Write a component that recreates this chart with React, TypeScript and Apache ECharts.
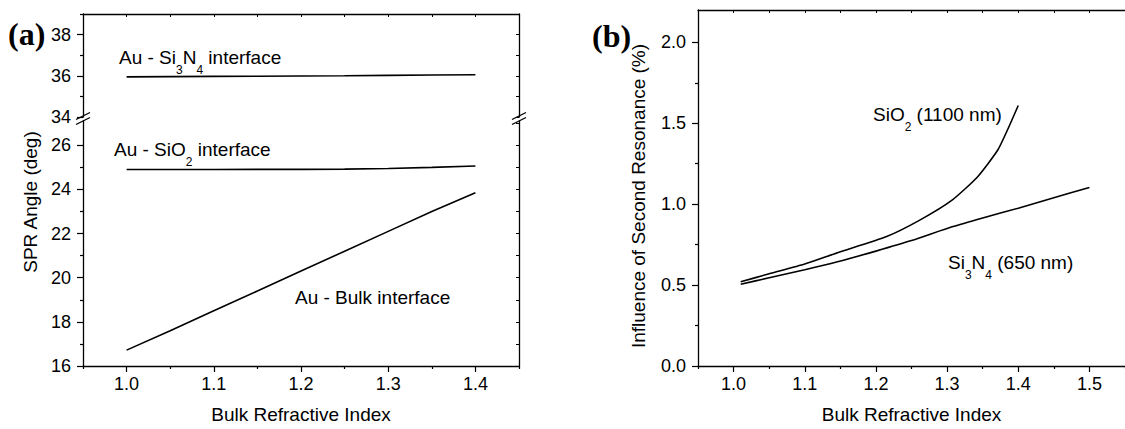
import React, { useEffect, useRef } from "react";
import * as echarts from "echarts";

const FONT = "'Liberation Sans', Arial, sans-serif";
const SERIF = "'Liberation Serif', 'Times New Roman', serif";

// ---------- Panel (a) data ----------
const indexA = [1.0, 1.05, 1.1, 1.15, 1.2, 1.25, 1.3, 1.35, 1.4];
const angleSi3N4 = [35.95, 35.96, 35.97, 35.98, 35.99, 36.0, 36.02, 36.04, 36.05];
const angleSiO2 = [24.9, 24.9, 24.9, 24.91, 24.91, 24.92, 24.95, 25.0, 25.06];
const angleBulk = [16.72, 17.6, 18.5, 19.4, 20.3, 21.2, 22.1, 23.0, 23.85];

const xTicksA = [1.0, 1.1, 1.2, 1.3, 1.4];
const xMinorA = [0.95, 1.05, 1.15, 1.25, 1.35, 1.45];
const xAllA = [0.95, 1.0, 1.05, 1.1, 1.15, 1.2, 1.25, 1.3, 1.35, 1.4, 1.45];
const yTicksUpper = [34, 36, 38];
const yMinorUpper = [35, 37, 39];
const yAllUpper = [34, 35, 36, 37, 38, 39];
const yTicksLower = [16, 18, 20, 22, 24, 26];
const yMinorLower = [17, 19, 21, 23, 25];
const yAllLower = [16, 17, 18, 19, 20, 21, 22, 23, 24, 25, 26, 27];

// ---------- Panel (b) data ----------
const indexSiO2 = [1.01, 1.05, 1.1, 1.146, 1.215, 1.261, 1.307, 1.343, 1.371, 1.385, 1.4];
const influenceSiO2 = [0.52, 0.57, 0.63, 0.7, 0.8, 0.9, 1.025, 1.17, 1.333, 1.46, 1.61];
const indexSi3N4 = [1.01, 1.05, 1.1, 1.146, 1.2, 1.25, 1.307, 1.35, 1.4, 1.45, 1.5];
const influenceSi3N4 = [0.505, 0.545, 0.595, 0.644, 0.71, 0.775, 0.86, 0.915, 0.975, 1.04, 1.103];

const xTicksB = [1.0, 1.1, 1.2, 1.3, 1.4, 1.5];
const xMinorB = [0.95, 1.05, 1.15, 1.25, 1.35, 1.45, 1.55];
const yTicksB = [0, 0.5, 1.0, 1.5, 2.0];
const yMinorB = [0.25, 0.75, 1.25, 1.75];

const BLACK = "#000";
const LW = 1.3;

const axisLineOn = { show: true, onZero: false, lineStyle: { color: BLACK, width: LW } };
const axisLineOff = { show: false, onZero: false };
const noLabel = { show: false };
const noSplit = { show: false };
const labelStyle = { color: BLACK, fontSize: 18, fontFamily: FONT };

function pairs(xs: number[], ys: number[]) {
  return xs.map((x, i) => [x, ys[i]]);
}

function richLabel(parts: string) {
  return {
    text: parts,
    rich: {
      a: { fontSize: 19, fontFamily: FONT, lineHeight: 21, verticalAlign: "top", fill: BLACK },
      s: { fontSize: 12, fontFamily: FONT, lineHeight: 12, padding: [16, 0, 0, 0], verticalAlign: "top", fill: BLACK },
    },
    align: "left",
    verticalAlign: "top",
  };
}

function breakMarks(x: number) {
  return [
    { type: "line", shape: { x1: x - 7, y1: 119.5, x2: x + 7, y2: 112.5 }, style: { stroke: BLACK, lineWidth: LW } },
    { type: "line", shape: { x1: x - 7, y1: 124.5, x2: x + 7, y2: 117.5 }, style: { stroke: BLACK, lineWidth: LW } },
  ];
}

export default function App() {
  const ref = useRef<HTMLDivElement>(null);

  useEffect(() => {
    if (!ref.current) return;
    const chart = echarts.init(ref.current, null, { renderer: "svg" });

    const option: any = {
      animation: false,
      backgroundColor: "#fff",
      grid: [
        { left: 83, width: 436, top: 14, height: 103 },
        { left: 83, width: 436, top: 121, height: 248 },
        { left: 698, width: 436, top: 10, height: 356 },
      ],
      xAxis: [
        {
          gridIndex: 0, type: "value", position: "top", min: 0.95, max: 1.45,
          axisLine: axisLineOn,
          axisTick: { show: true, inside: true, length: 3, customValues: xAllA, lineStyle: { color: BLACK, width: 1 } },
          axisLabel: noLabel, splitLine: noSplit,
        },
        {
          gridIndex: 1, type: "value", position: "bottom", min: 0.95, max: 1.45,
          axisLine: axisLineOn,
          axisTick: { show: true, length: 6, customValues: xTicksA, lineStyle: { color: BLACK, width: 1.2 } },
          axisLabel: { ...labelStyle, customValues: xTicksA, margin: 9, formatter: (v: number) => v.toFixed(1) },
          splitLine: noSplit,
          name: "Bulk Refractive Index", nameLocation: "middle", nameGap: 39,
          nameTextStyle: { color: BLACK, fontSize: 19, fontFamily: FONT },
        },
        {
          gridIndex: 1, type: "value", position: "bottom", min: 0.95, max: 1.45,
          axisLine: axisLineOff,
          axisTick: { show: true, length: 3, customValues: xMinorA, lineStyle: { color: BLACK, width: 1.2 } },
          axisLabel: noLabel, splitLine: noSplit,
        },
        {
          gridIndex: 2, type: "value", position: "top", min: 0.95, max: 1.55,
          axisLine: axisLineOn,
          axisTick: { show: true, inside: true, length: 3, customValues: [...xTicksB, ...xMinorB], lineStyle: { color: BLACK, width: 1 } },
          axisLabel: noLabel, splitLine: noSplit,
        },
        {
          gridIndex: 2, type: "value", position: "bottom", min: 0.95, max: 1.55,
          axisLine: axisLineOn,
          axisTick: { show: true, length: 6, customValues: xTicksB, lineStyle: { color: BLACK, width: 1.2 } },
          axisLabel: { ...labelStyle, customValues: xTicksB, margin: 9, formatter: (v: number) => v.toFixed(1) },
          splitLine: noSplit,
          name: "Bulk Refractive Index", nameLocation: "middle", nameGap: 39,
          nameTextStyle: { color: BLACK, fontSize: 19, fontFamily: FONT },
        },
        {
          gridIndex: 2, type: "value", position: "bottom", min: 0.95, max: 1.55,
          axisLine: axisLineOff,
          axisTick: { show: true, length: 3, customValues: xMinorB, lineStyle: { color: BLACK, width: 1.2 } },
          axisLabel: noLabel, splitLine: noSplit,
        },
      ],
      yAxis: [
        {
          gridIndex: 0, type: "value", position: "left", min: 34, max: 39,
          axisLine: axisLineOn,
          axisTick: { show: true, length: 6, customValues: yTicksUpper, lineStyle: { color: BLACK, width: 1.2 } },
          axisLabel: { ...labelStyle, customValues: yTicksUpper, margin: 12 },
          splitLine: noSplit,
        },
        {
          gridIndex: 0, type: "value", position: "left", min: 34, max: 39,
          axisLine: axisLineOff,
          axisTick: { show: true, length: 3, customValues: yMinorUpper, lineStyle: { color: BLACK, width: 1.2 } },
          axisLabel: noLabel, splitLine: noSplit,
        },
        {
          gridIndex: 0, type: "value", position: "right", min: 34, max: 39,
          axisLine: axisLineOn,
          axisTick: { show: true, inside: true, length: 3, customValues: yAllUpper, lineStyle: { color: BLACK, width: 1 } },
          axisLabel: noLabel, splitLine: noSplit,
        },
        {
          gridIndex: 1, type: "value", position: "left", min: 16, max: 27.1,
          axisLine: axisLineOn,
          axisTick: { show: true, length: 6, customValues: yTicksLower, lineStyle: { color: BLACK, width: 1.2 } },
          axisLabel: { ...labelStyle, customValues: yTicksLower, margin: 12 },
          splitLine: noSplit,
        },
        {
          gridIndex: 1, type: "value", position: "left", min: 16, max: 27.1,
          axisLine: axisLineOff,
          axisTick: { show: true, length: 3, customValues: yMinorLower, lineStyle: { color: BLACK, width: 1.2 } },
          axisLabel: noLabel, splitLine: noSplit,
        },
        {
          gridIndex: 1, type: "value", position: "right", min: 16, max: 27.1,
          axisLine: axisLineOn,
          axisTick: { show: true, inside: true, length: 3, customValues: yAllLower, lineStyle: { color: BLACK, width: 1 } },
          axisLabel: noLabel, splitLine: noSplit,
        },
        {
          gridIndex: 2, type: "value", position: "left", min: 0, max: 2.2,
          axisLine: axisLineOn,
          axisTick: { show: true, length: 6, customValues: yTicksB, lineStyle: { color: BLACK, width: 1.2 } },
          axisLabel: { ...labelStyle, customValues: yTicksB, margin: 12, formatter: (v: number) => v.toFixed(1) },
          splitLine: noSplit,
        },
        {
          gridIndex: 2, type: "value", position: "left", min: 0, max: 2.2,
          axisLine: axisLineOff,
          axisTick: { show: true, length: 3, customValues: yMinorB, lineStyle: { color: BLACK, width: 1.2 } },
          axisLabel: noLabel, splitLine: noSplit,
        },
      ],
      series: [
        {
          name: "Au - Si3N4 interface", type: "line", xAxisIndex: 0, yAxisIndex: 0,
          data: pairs(indexA, angleSi3N4), showSymbol: false, symbol: "none",
          lineStyle: { color: BLACK, width: 1.6 },
        },
        {
          name: "Au - SiO2 interface", type: "line", xAxisIndex: 1, yAxisIndex: 3,
          data: pairs(indexA, angleSiO2), showSymbol: false, symbol: "none",
          lineStyle: { color: BLACK, width: 1.6 },
        },
        {
          name: "Au - Bulk interface", type: "line", xAxisIndex: 1, yAxisIndex: 3,
          data: pairs(indexA, angleBulk), showSymbol: false, symbol: "none",
          lineStyle: { color: BLACK, width: 1.6 },
        },
        {
          name: "SiO2 (1100 nm)", type: "line", xAxisIndex: 4, yAxisIndex: 6,
          data: pairs(indexSiO2, influenceSiO2), showSymbol: false, symbol: "none",
          smooth: 0.2,
          lineStyle: { color: BLACK, width: 1.6 },
        },
        {
          name: "Si3N4 (650 nm)", type: "line", xAxisIndex: 4, yAxisIndex: 6,
          data: pairs(indexSi3N4, influenceSi3N4), showSymbol: false, symbol: "none",
          smooth: 0.2,
          lineStyle: { color: BLACK, width: 1.6 },
        },
      ],
      graphic: [
        ...breakMarks(83),
        ...breakMarks(519),
        { type: "text", x: 8, y: 34, style: { text: "(a)", font: `bold 32px ${SERIF}`, fill: BLACK, align: "left", verticalAlign: "middle" } },
        { type: "text", x: 592, y: 36, style: { text: "(b)", font: `bold 32px ${SERIF}`, fill: BLACK, align: "left", verticalAlign: "middle" } },
        {
          type: "text", x: 30, y: 202, rotation: Math.PI / 2,
          style: { text: "SPR Angle (deg)", fontSize: 19, fontFamily: FONT, fill: BLACK, align: "center", verticalAlign: "middle" },
        },
        {
          type: "text", x: 638, y: 196, rotation: Math.PI / 2,
          style: { text: "Influence of Second Resonance (%)", fontSize: 19, fontFamily: FONT, fill: BLACK, align: "center", verticalAlign: "middle" },
        },
        { type: "text", x: 119, y: 48, style: richLabel("{a|Au - Si}{s|3}{a|N}{s|4}{a| interface}") },
        { type: "text", x: 114, y: 140, style: richLabel("{a|Au - SiO}{s|2}{a| interface}") },
        { type: "text", x: 295, y: 288, style: richLabel("{a|Au - Bulk interface}") },
        { type: "text", x: 873, y: 105, style: richLabel("{a|SiO}{s|2}{a| (1100 nm)}") },
        { type: "text", x: 948, y: 253, style: richLabel("{a|Si}{s|3}{a|N}{s|4}{a| (650 nm)}") },
      ],
    };

    chart.setOption(option);
    return () => chart.dispose();
  }, []);

  return (
    <div
      ref={ref}
      style={{ position: "absolute", left: 0, top: 0, width: 1125, height: 429, background: "#fff" }}
    />
  );
}
